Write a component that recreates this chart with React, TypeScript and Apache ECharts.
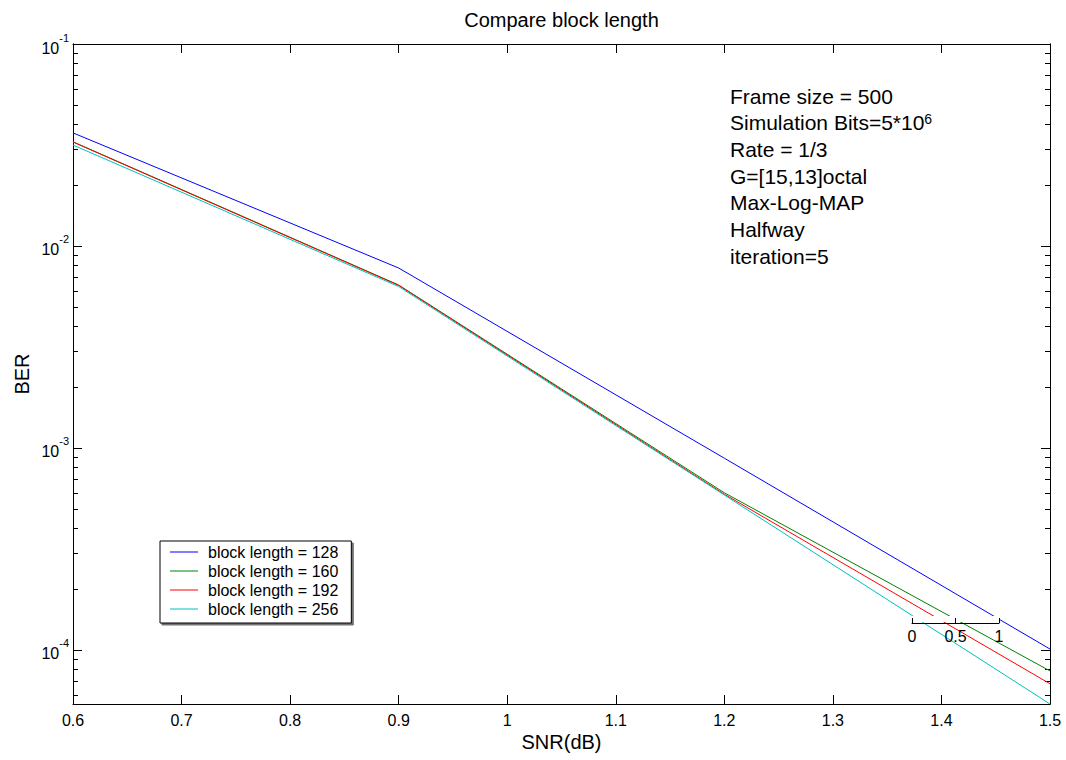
import React, { useEffect, useRef } from "react";
import * as echarts from "echarts";

// ---- data ----
const SNR = [0.6, 0.9, 1.2, 1.5];
const BER_128 = [0.0363, 0.00778, 8.9e-4, 1.01e-4];
const BER_160 = [0.0328, 0.00641, 6.0e-4, 7.87e-5];
const BER_192 = [0.0327, 0.00638, 5.9e-4, 6.8e-5];
const BER_256 = [0.0316, 0.0063, 5.85e-4, 5.4e-5];
const SERIES_NAMES = ["block length = 128", "block length = 160", "block length = 192", "block length = 256"];
const SERIES_COLORS = ["#0000FF", "#008000", "#FF0000", "#00BFBF"];
const Y_EXPONENTS = [-4, -3, -2, -1];
const X_MIN = 0.6;
const X_MAX = 1.5;
const X_STEP = 0.1;
const Y_MIN = 5.4e-5;
const Y_MAX = 0.1;
const ANNOTATION = [
  "Frame size = 500",
  "Simulation Bits=5*10{sup|6}",
  "Rate = 1/3",
  "G=[15,13]octal",
  "Max-Log-MAP",
  "Halfway",
  "iteration=5",
];
const SCALE_TICKS = [0, 0.5, 1];

const FONT = "'Liberation Sans', Arial, Helvetica, sans-serif";

export default function App() {
  const ref = useRef<HTMLDivElement>(null);
  useEffect(() => {
    if (!ref.current) return;
    const chart = echarts.init(ref.current, undefined, { renderer: "svg" });
    const yMin = Math.log10(Y_MIN);
    const yMax = Math.log10(Y_MAX);
    const minor: number[] = [];
    for (let e = -5; e <= -2; e++) {
      for (let k = 2; k <= 9; k++) {
        const v = Math.log10(k * Math.pow(10, e));
        if (v > yMin && v < yMax) minor.push(v);
      }
    }
    const allData = [BER_128, BER_160, BER_192, BER_256];
    const black = { color: "#000", width: 1 };
    const baseY = {
      type: "value" as const,
      gridIndex: 0,
      min: yMin,
      max: yMax,
      splitLine: { show: false },
      axisLine: { show: true, lineStyle: black },
    };
    const supRich = {
      b: { fontSize: 16, fontFamily: FONT, color: "#000", lineHeight: 24, verticalAlign: "bottom" },
      s: { fontSize: 11, fontFamily: FONT, color: "#000", lineHeight: 10, verticalAlign: "top" },
    };
    const option: any = {
      animation: false,
      backgroundColor: "#fff",
      grid: [
        { left: 73, right: 16, top: 44, bottom: 56, containLabel: false },
        { left: 912, top: 613, width: 87, height: 10, containLabel: false },
      ],
      xAxis: [
        {
          type: "value",
          gridIndex: 0,
          position: "bottom",
          min: X_MIN,
          max: X_MAX,
          interval: X_STEP,
          splitLine: { show: false },
          axisLine: { show: true, lineStyle: black },
          axisTick: { show: true, inside: true, length: 9, lineStyle: black },
          axisLabel: {
            color: "#000",
            fontSize: 16,
            fontFamily: FONT,
            margin: 8,
            formatter: (v: number) => String(+v.toFixed(1)),
          },
        },
        {
          type: "value",
          gridIndex: 0,
          position: "top",
          min: X_MIN,
          max: X_MAX,
          interval: X_STEP,
          splitLine: { show: false },
          axisLine: { show: true, lineStyle: black },
          axisTick: { show: true, inside: true, length: 9, lineStyle: black },
          axisLabel: { show: false },
        },
        {
          type: "value",
          gridIndex: 1,
          position: "bottom",
          min: 0,
          max: 1,
          interval: 0.5,
          z: 10,
          splitLine: { show: false },
          axisLine: { show: true, lineStyle: black },
          axisTick: { show: true, inside: true, length: 5, lineStyle: black },
          axisLabel: {
            color: "#000",
            fontSize: 16,
            fontFamily: FONT,
            margin: 5,
            customValues: SCALE_TICKS,
            formatter: (v: number) => String(+v.toFixed(1)),
          },
        },
      ],
      yAxis: [
        {
          ...baseY,
          position: "left",
          axisTick: { show: true, inside: true, length: 9, lineStyle: black, customValues: Y_EXPONENTS },
          axisLabel: {
            show: true,
            customValues: Y_EXPONENTS,
            margin: 4,
            formatter: (v: number) => `{b|10}{s|${Math.round(v)}}`,
            rich: supRich,
          },
        },
        {
          ...baseY,
          position: "left",
          axisTick: { show: true, inside: true, length: 5, lineStyle: black, customValues: minor },
          axisLabel: { show: false },
        },
        {
          ...baseY,
          position: "right",
          axisTick: { show: true, inside: true, length: 9, lineStyle: black, customValues: Y_EXPONENTS },
          axisLabel: { show: false },
        },
        {
          ...baseY,
          position: "right",
          axisTick: { show: true, inside: true, length: 5, lineStyle: black, customValues: minor },
          axisLabel: { show: false },
        },
        { type: "value", gridIndex: 1, min: 0, max: 1, show: false },
      ],
      legend: {
        show: true,
        orient: "vertical",
        left: 160,
        top: 541,
        icon: "rect",
        itemWidth: 28,
        itemHeight: 1,
        itemGap: 3,
        padding: [3, 13, 6, 10],
        backgroundColor: "#fff",
        borderColor: "#000",
        borderWidth: 1,
        shadowColor: "rgba(0,0,0,0.55)",
        shadowOffsetX: 2,
        shadowOffsetY: 2,
        shadowBlur: 0,
        textStyle: { color: "#000", fontSize: 16, fontFamily: FONT, padding: [0, 0, 0, 5] },
        data: SERIES_NAMES,
      },
      series: allData.map((vals, i) => ({
        name: SERIES_NAMES[i],
        type: "line",
        xAxisIndex: 0,
        yAxisIndex: 0,
        symbol: "none",
        color: SERIES_COLORS[i],
        lineStyle: { color: SERIES_COLORS[i], width: 1 },
        itemStyle: { color: SERIES_COLORS[i] },
        data: SNR.map((x, j) => [x, Math.log10(vals[j])]),
        z: 2,
      })),
      graphic: [
        {
          type: "rect",
          z: 5,
          shape: { x: 912, y: 616, width: 87, height: 6 },
          style: { fill: "#fff" },
        },
        {
          type: "text",
          x: 561.5,
          y: 20,
          style: { text: "Compare block length", fill: "#000", fontSize: 20, fontFamily: FONT, textAlign: "center", textVerticalAlign: "middle" },
        },
        {
          type: "text",
          x: 561.5,
          y: 742,
          style: { text: "SNR(dB)", fill: "#000", fontSize: 20, fontFamily: FONT, textAlign: "center", textVerticalAlign: "middle" },
        },
        {
          type: "text",
          x: 22,
          y: 374,
          rotation: Math.PI / 2,
          style: { text: "BER", fill: "#000", fontSize: 20, fontFamily: FONT, textAlign: "center", textVerticalAlign: "middle" },
        },
        ...ANNOTATION.map((t, i) => ({
          type: "text",
          x: 730,
          y: 96 + i * 26.7,
          style: {
            text: t,
            fill: "#000",
            fontSize: 21,
            fontFamily: FONT,
            textAlign: "left",
            textVerticalAlign: "middle",
            rich: {
              sup: { fontSize: 14, fontFamily: FONT, fill: "#000", color: "#000", lineHeight: 12, verticalAlign: "top" },
            },
          },
        })),
      ],
    };
    chart.setOption(option);
    return () => chart.dispose();
  }, []);
  return (
    <div
      ref={ref}
      style={{ position: "fixed", left: 0, top: 0, width: 1066, height: 760, background: "#fff" }}
    />
  );
}
